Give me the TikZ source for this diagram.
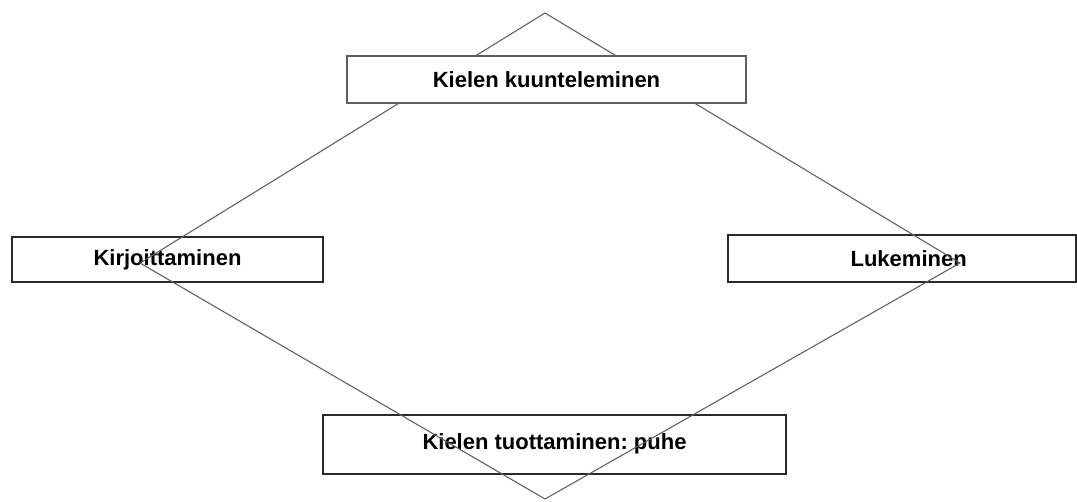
\documentclass[tikz,border=0pt]{standalone}
\usepackage{fontspec}
\setmainfont{Liberation Sans}
\usepackage{tikz}
\usepackage{xcolor}
\definecolor{linegray}{HTML}{5E5E5E}
\definecolor{boxdark}{HTML}{2A2A2A}
\tikzstyle{skill} = [rectangle, inner sep=0pt, text centered, font=\fontsize{16.5}{20}\selectfont\bfseries\frenchspacing]
\tikzstyle{boxthin} = [skill, draw=linegray, line width=0.8pt, fill=white]
\tikzstyle{boxthick} = [skill, draw=boxdark, line width=1.5pt]
\tikzstyle{edge} = [draw=linegray, line width=0.8pt]

\begin{document}
\begin{tikzpicture}[x=0.75pt, y=-0.75pt]
\useasboundingbox (0,0) rectangle (1077,502);
\coordinate (ylä) at (545,13);
\coordinate (vasen) at (140,263);
\coordinate (oikea) at (960,263);
\coordinate (ala) at (545,499);

\node (kirj) [boxthick, minimum width=233.25pt, minimum height=33.75pt] at (167.5,259.5) {Kirjoittaminen};
\node (luku) [boxthick, minimum width=261pt, minimum height=35.25pt] at (902,258.5) {\hspace*{10pt}Lukeminen};
\node (puhe) [boxthick, minimum width=347.25pt, minimum height=44.25pt] at (554.5,444.5) {\raisebox{4pt}{Kielen tuottaminen: puhe}};

\draw [edge] (ylä) -- (vasen) -- (ala) -- (oikea) -- cycle;

\node (kuuntelu) [boxthin, minimum width=299.25pt, minimum height=35.25pt] at (546.5,79.5) {Kielen kuunteleminen};
\end{tikzpicture}
\end{document}
